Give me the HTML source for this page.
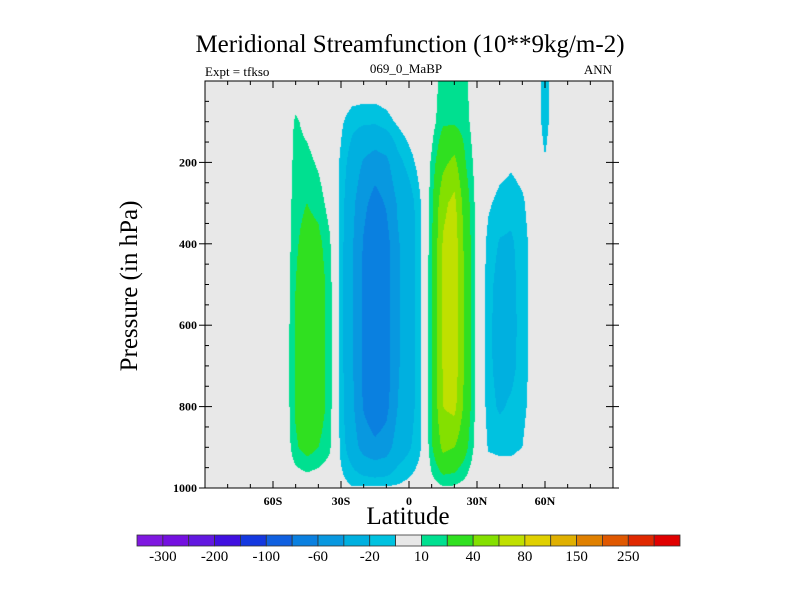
<!DOCTYPE html>
<html><head><meta charset="utf-8"><style>
body{margin:0;background:#fff;}
#wrap{position:relative;width:800px;height:600px;overflow:hidden;font-family:"Liberation Serif",serif;}
.t{position:absolute;white-space:nowrap;color:#000;}
</style></head><body>
<div id="wrap">
<div class="t" style="left:0;width:820px;text-align:center;top:31px;font-size:25px;">Meridional Streamfunction (10**9kg/m-2)</div>
<div class="t" style="left:205px;top:64px;font-size:13px;">Expt = tfkso</div>
<div class="t" style="left:306px;width:200px;text-align:center;top:61px;font-size:13px;">069_0_MaBP</div>
<div class="t" style="left:512px;width:100px;text-align:right;top:62px;font-size:13px;">ANN</div>
<div class="t" style="left:130px;top:286px;font-size:25px;transform:translate(-50%,-50%) rotate(-90deg);">Pressure (in hPa)</div>
<div class="t" style="left:0;width:816px;text-align:center;top:503px;font-size:25px;">Latitude</div>
<canvas id="cv" width="408" height="407" style="position:absolute;left:205px;top:81px;"></canvas>
<svg id="sv" width="800" height="600" style="position:absolute;left:0;top:0;"></svg>
</div>
<script>
const lats=[-90,-85,-80,-75,-70,-65,-60,-55,-50,-45,-40,-35,-30,-25,-20,-15,-10,-5,0,5,10,15,20,25,30,35,40,45,50,55,60,65,70,75,80,85,90];
const pressures=[0,100,200,300,400,500,600,700,800,900,1000];
const Z7=[0,0,0,0,0,0,0], Z5=[0,0,0,0,0];
const row0=[0,0,0,0,0,0,0,0,0,0,0,0,0,3,15,15,12,0,0,0,0,0,0,-15,0];
const row100=[0,12,6,0,0,-8,-16,-18,-18,-14,-8,-3,0,5,18,18,14,2,0,0,0,0,0,-15,0];
const row200=[0,14,14,8,0,-12,-28,-42,-50,-45,-25,-15,-5,12,35,45,20,4,0,-5,-8,-5,0,-9,0];
const row300=[0,16,20,16,5,-14,-35,-55,-68,-58,-38,-28,-11,16,55,66,28,5,-8,-14,-16,-12,-3,0,0];
const row400=[0,18,26,24,12,-15,-38,-62,-78,-68,-42,-30,-12,18,62,72,32,5,-14,-21,-22,-15,-5,0,0];
const row500=[0,20,30,28,15,-15,-38,-65,-78,-70,-42,-30,-12,20,62,74,34,5,-16,-25,-24,-15,-5,0,0];
const row600=[0,22,30,28,15,-15,-38,-65,-78,-70,-42,-30,-12,20,62,74,34,5,-17,-26,-25,-15,-5,0,0];
const row700=[0,22,30,28,15,-15,-38,-65,-78,-70,-42,-30,-12,20,62,72,34,5,-17,-25,-24,-15,-5,0,0];
const row800=[0,22,30,28,15,-15,-36,-62,-75,-66,-40,-28,-12,20,60,66,32,5,-15,-22,-18,-13,-5,0,0];
const row900=[0,18,26,20,12,-13,-30,-48,-55,-50,-30,-22,-11,18,45,40,24,4,-11,-12,-12,-10,-3,0,0];
const row1000=[0,0,0,0,0,-6,-9,-8,-8,-8,-8,-6,-4,5,8,8,5,0,-2,-3,-3,-2,0,0,0];
const levels=[-300,-250,-200,-150,-100,-80,-60,-40,-20,-10,10,20,40,60,80,100,150,200,250,300];
const colors=['#7f18e0','#7410e0','#6218e0','#4010e0','#1438e0','#1060e0','#0a80e0','#0898e0','#00b0e0','#00c2e0','#e8e8e8','#00e090','#30e020','#84e000','#c0e000','#e0d000','#e0b000','#e08000','#e05800','#e02800','#e00000'];
const barLabels=['-300','-200','-100','-60','-20','10','40','80','150','250'];
const xTickLats=[-60,-30,0,30,60];
const xTickLabels=['60S','30S','0','30N','60N'];
const yTickVals=[200,400,600,800,1000];

const grid=[row0,row100,row200,row300,row400,row500,row600,row700,row800,row900,row1000].map(r=>Z7.concat(r,Z5));
const X0=205,X1=613,Y0=81,Y1=488;
const xs=lat=>X0+(lat+90)/180*(X1-X0);
const ys=p=>Y0+p/1000*(Y1-Y0);
function hex(c){return [1,3,5].map(k=>parseInt(c.substr(k,2),16));}
const rgb=colors.map(hex);
function idxFor(v){let i=0;while(i<levels.length&&v>=levels[i])i++;return i;}
const cv=document.getElementById('cv'),ctx=cv.getContext('2d');
const W=cv.width,H=cv.height,img=ctx.createImageData(W,H);
const dl=lats[1]-lats[0],dp=pressures[1]-pressures[0];
for(let py=0;py<H;py++){
  const p=(py+0.5)/H*1000;
  let j=Math.min(Math.floor(p/dp),pressures.length-2);const fy=(p-pressures[j])/dp;
  for(let px=0;px<W;px++){
    const lat=-90+(px+0.5)/W*180;
    let i=Math.min(Math.floor((lat+90)/dl),lats.length-2);const fx=(lat-lats[i])/dl;
    const v=grid[j][i]*(1-fx)*(1-fy)+grid[j][i+1]*fx*(1-fy)+grid[j+1][i]*(1-fx)*fy+grid[j+1][i+1]*fx*fy;
    const c=rgb[idxFor(v)];const k=(py*W+px)*4;
    img.data[k]=c[0];img.data[k+1]=c[1];img.data[k+2]=c[2];img.data[k+3]=255;
  }
}
ctx.putImageData(img,0,0);

const NS='http://www.w3.org/2000/svg',sv=document.getElementById('sv');
function mk(tag,at){const e=document.createElementNS(NS,tag);for(const k in at)e.setAttribute(k,at[k]);sv.appendChild(e);return e;}
const frame=mk('rect',{x:X0,y:Y0,width:X1-X0,height:Y1-Y0,fill:'none',stroke:'#000','stroke-width':1});


for(let lat=-80;lat<=80;lat+=10){
  const x=xs(lat),maj=lat%30===0,L=maj?7:4;
  const t1=mk('line',{x1:x,y1:Y1,x2:x,y2:Y1-L,stroke:'#000'});
  
  
  const t2=mk('line',{x1:x,y1:Y0,x2:x,y2:Y0+L,stroke:'#000'});
  
  
}
xTickLats.forEach((lat,i)=>{
  const t=mk('text',{x:xs(lat),y:Y1+17,'text-anchor':'middle','font-size':12,'font-weight':'bold','font-family':'Liberation Serif, serif'});
  t.textContent=xTickLabels[i];
  
  
});
for(let p=50;p<=1000;p+=50){
  const y=ys(p),maj=p%200===0,L=maj?7:4;
  const t1=mk('line',{x1:X0-(maj?6:0),y1:y,x2:X0+L,y2:y,stroke:'#000'});
  
  
  const t2=mk('line',{x1:X1-L,y1:y,x2:X1+(maj?6:0),y2:y,stroke:'#000'});
  
  
}
yTickVals.forEach(v=>{
  const t=mk('text',{x:X0-8,y:ys(v)+4,'text-anchor':'end','font-size':12,'font-weight':'bold','font-family':'Liberation Serif, serif'});
  t.textContent=String(v);
  
  
});
const BX0=137,BX1=680,BY=535,BH=11,bw=(BX1-BX0)/colors.length;
colors.forEach((c,i)=>{
  const r=mk('rect',{x:BX0+i*bw,y:BY,width:bw,height:BH,fill:c,stroke:'#333','stroke-width':0.8});
  
  
});
barLabels.forEach((s,i)=>{
  const t=mk('text',{x:BX0+(2*i+1)*bw,y:BY+26,'text-anchor':'middle','font-size':15,'font-family':'Liberation Serif, serif'});
  t.textContent=s;
  
  
});
</script>
</body></html>
